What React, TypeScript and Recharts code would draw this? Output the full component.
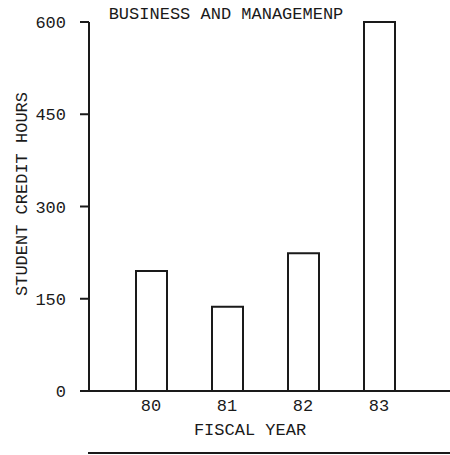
import React from 'react';
import { BarChart, Bar, XAxis, YAxis, Label } from 'recharts';

const fiscalYears = ['80', '81', '82', '83'];
const creditHours = [195, 137, 224, 600];
const hourTicks = [0, 150, 300, 450, 600];

const data = fiscalYears.map((year, i) => ({ year, hours: creditHours[i] }));

const mono = '"Liberation Mono", "DejaVu Sans Mono", monospace';
const ink = '#1a1a1a';

const App: React.FC = () => {
    return (
        <div style={{ position: 'absolute', left: 0, top: 0, width: 450, height: 455, background: '#fff', fontFamily: mono }}>
            <div
                style={{
                    position: 'absolute',
                    left: 0,
                    top: 6,
                    width: 452,
                    textAlign: 'center',
                    fontSize: 17,
                    lineHeight: '17px',
                    color: ink,
                }}
            >
                BUSINESS AND MANAGEMENP
            </div>
            <BarChart
                width={450}
                height={455}
                data={data}
                margin={{ top: 22, right: 0, bottom: 0, left: 0 }}
                barSize={31}
            >
                <XAxis
                    dataKey="year"
                    stroke={ink}
                    strokeWidth={2}
                    tickLine={false}
                    tickSize={0}
                    tickMargin={8}
                    padding={{ left: 24, right: 33 }}
                    height={64}
                    tick={{ fill: ink, fontSize: 17, fontFamily: mono }}
                >
                    <Label
                        content={({ viewBox }: any) => (
                            <text
                                x={250}
                                y={viewBox.y + 44}
                                textAnchor="middle"
                                fill={ink}
                                fontSize={17}
                                fontFamily={mono}
                            >
                                FISCAL YEAR
                            </text>
                        )}
                    />
                </XAxis>
                <YAxis
                    domain={[0, 600]}
                    ticks={hourTicks}
                    width={89}
                    stroke={ink}
                    strokeWidth={2}
                    tickSize={9}
                    tickMargin={14}
                    tick={{ fill: ink, fontSize: 17, fontFamily: mono }}
                >
                    <Label
                        content={() => (
                            <text
                                x={0}
                                y={0}
                                transform="translate(27, 194) rotate(-90)"
                                textAnchor="middle"
                                fill={ink}
                                fontSize={17}
                                fontFamily={mono}
                            >
                                STUDENT CREDIT HOURS
                            </text>
                        )}
                    />
                </YAxis>
                <Bar
                    dataKey="hours"
                    fill="#fff"
                    stroke={ink}
                    strokeWidth={2}
                    isAnimationActive={false}
                />
            </BarChart>
            <div
                style={{
                    position: 'absolute',
                    left: 88,
                    top: 452,
                    width: 362,
                    height: 2,
                    background: ink,
                }}
            />
        </div>
    );
};

export default App;
